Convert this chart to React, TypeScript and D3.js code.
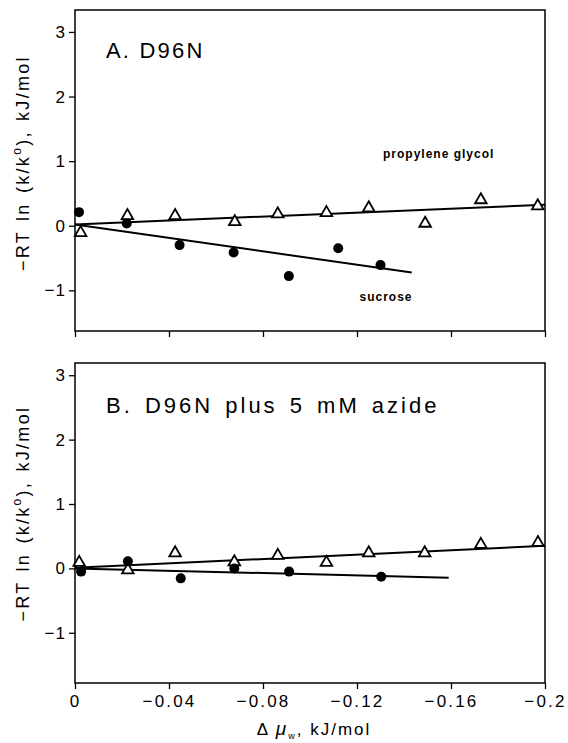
import React, { useRef, useEffect } from 'react';
import * as d3 from 'd3';

// x axis (shared)
const xTicks = [0, -0.04, -0.08, -0.12, -0.16, -0.2];
const yTicks = [3, 2, 1, 0, -1];

// Panel A: D96N
const aGlycolX = [-0.0024, -0.0223, -0.0426, -0.068, -0.0863, -0.107, -0.125, -0.149, -0.1727, -0.1969];
const aGlycolY = [-0.11, 0.155, 0.155, 0.06, 0.18, 0.2, 0.275, 0.036, 0.4, 0.306];
const aSucroseX = [-0.0017, -0.022, -0.0445, -0.0675, -0.091, -0.112, -0.13];
const aSucroseY = [0.21, 0.036, -0.3, -0.415, -0.78, -0.35, -0.61];
const aGlycolFitX = [0, -0.2];
const aGlycolFitY = [0.02, 0.326];
const aSucroseFitX = [0, -0.1433];
const aSucroseFitY = [0.02, -0.726];

// Panel B: D96N plus 5 mM azide
const bGlycolX = [-0.0018, -0.0225, -0.0426, -0.0678, -0.0863, -0.107, -0.125, -0.1488, -0.1727, -0.197];
const bGlycolY = [0.09, -0.026, 0.24, 0.1, 0.2, 0.09, 0.24, 0.24, 0.37, 0.4];
const bSucroseX = [-0.0026, -0.0225, -0.045, -0.0678, -0.0911, -0.1303];
const bSucroseY = [-0.05, 0.11, -0.155, 0.0, -0.05, -0.13];
const bGlycolFitX = [0, -0.2];
const bGlycolFitY = [0.01, 0.35];
const bSucroseFitX = [0, -0.159];
const bSucroseFitY = [0.0, -0.145];

const FONT = '"Liberation Sans", Arial, Helvetica, sans-serif';

const fmt = (d: number) => (d < 0 ? '\u2212' + String(Math.abs(d)) : String(d));

const App = () => {
  const svgRef = useRef<SVGSVGElement>(null);

  useEffect(() => {
    const svg = d3.select(svgRef.current);
    svg.selectAll('*').remove();

    const left = 75, right = 545;
    const x = d3.scaleLinear().domain([0, -0.2]).range([left, right]);

    const panels = [
      {
        top: 10, bottom: 331, domain: [-1.63, 3.34], title: 'A. D96N', titleY: 58, titleSpacing: 2.2,
        labelAt: 0.97,
        gx: aGlycolX, gy: aGlycolY, sx: aSucroseX, sy: aSucroseY,
        gfx: aGlycolFitX, gfy: aGlycolFitY, sfx: aSucroseFitX, sfy: aSucroseFitY,
        xLabels: false,
      },
      {
        top: 363, bottom: 683, domain: [-1.78, 3.19], title: 'B. D96N plus 5 mM azide', titleY: 413, titleSpacing: 3,
        labelAt: 0.85,
        gx: bGlycolX, gy: bGlycolY, sx: bSucroseX, sy: bSucroseY,
        gfx: bGlycolFitX, gfy: bGlycolFitY, sfx: bSucroseFitX, sfy: bSucroseFitY,
        xLabels: true,
      },
    ];

    panels.forEach(p => {
      const y = d3.scaleLinear().domain(p.domain).range([p.bottom, p.top]);
      const g = svg.append('g');

      // frame
      g.append('rect')
        .attr('x', left).attr('y', p.top)
        .attr('width', right - left).attr('height', p.bottom - p.top)
        .attr('fill', 'none').attr('stroke', '#000').attr('stroke-width', 1.5);

      // y axis
      const ya = g.append('g')
        .attr('transform', `translate(${left},0)`)
        .call(d3.axisLeft(y).tickValues(yTicks).tickSize(6).tickPadding(3).tickFormat(d => fmt(+d)));
      ya.select('.domain').remove();
      ya.selectAll('line').attr('stroke-width', 1.3);
      ya.selectAll('text').attr('font-family', FONT).attr('font-size', 17)
        .attr('letter-spacing', 1).attr('fill', '#000');

      // x axis
      const xa = g.append('g')
        .attr('transform', `translate(0,${p.bottom})`)
        .call(d3.axisBottom(x).tickValues(xTicks).tickSize(6).tickPadding(6)
          .tickFormat(d => (p.xLabels ? fmt(+d) : '')));
      xa.select('.domain').remove();
      xa.selectAll('line').attr('stroke-width', 1.3);
      xa.selectAll('text').attr('font-family', FONT).attr('font-size', 17)
        .attr('letter-spacing', 2.2).attr('fill', '#000');

      // fit lines
      const line = d3.line<[number, number]>().x(d => x(d[0])).y(d => y(d[1]));
      [[p.gfx, p.gfy], [p.sfx, p.sfy]].forEach(([fx, fy]) => {
        g.append('path')
          .attr('d', line(fx.map((v, i) => [v, fy[i]] as [number, number])))
          .attr('fill', 'none').attr('stroke', '#000').attr('stroke-width', 2);
      });

      // propylene glycol: open triangles
      const tri = d3.symbol().type(d3.symbolTriangle).size(58);
      g.selectAll('.tri')
        .data(p.gx.map((v, i) => [v, p.gy[i]]))
        .enter().append('path')
        .attr('d', tri())
        .attr('transform', d => `translate(${x(d[0])},${y(d[1])})`)
        .attr('fill', '#fff').attr('stroke', '#000').attr('stroke-width', 1.8);

      // sucrose: filled circles
      g.selectAll('.dot')
        .data(p.sx.map((v, i) => [v, p.sy[i]]))
        .enter().append('circle')
        .attr('cx', d => x(d[0])).attr('cy', d => y(d[1])).attr('r', 5)
        .attr('fill', '#000');

      // panel title
      g.append('text')
        .attr('x', 106).attr('y', p.titleY)
        .attr('font-family', FONT).attr('font-size', 22).attr('letter-spacing', p.titleSpacing)
        .attr('word-spacing', p.xLabels ? 3 : 0)
        .text(p.title);

      // y label
      const yl = g.append('text')
        .attr('transform', `translate(29,${y(p.labelAt)}) rotate(-90)`)
        .attr('text-anchor', 'middle')
        .attr('font-family', FONT).attr('font-size', 18).attr('letter-spacing', 2.3)
        .attr('word-spacing', 2);
      yl.append('tspan').text('\u2212RT ln (k/k');
      yl.append('tspan').attr('dy', -8).attr('font-size', 12).text('o');
      yl.append('tspan').attr('dy', 8).text('), kJ/mol');

      if (!p.xLabels) {
        g.append('text')
          .attr('x', 383).attr('y', 158)
          .attr('font-family', FONT).attr('font-size', 12).attr('font-weight', 'bold')
          .attr('letter-spacing', 1)
          .text('propylene glycol');
        g.append('text')
          .attr('x', 386).attr('y', 301).attr('text-anchor', 'middle')
          .attr('font-family', FONT).attr('font-size', 12).attr('font-weight', 'bold')
          .attr('letter-spacing', 1)
          .text('sucrose');
      } else {
        const xl = g.append('text')
          .attr('x', (left + right) / 2 + 4).attr('y', 735).attr('text-anchor', 'middle')
          .attr('font-family', FONT).attr('font-size', 17).attr('letter-spacing', 2);
        xl.append('tspan').text('\u0394 ');
        xl.append('tspan').attr('font-style', 'italic').attr('font-size', 19).text('\u03bc');
        xl.append('tspan').attr('dy', 4).attr('font-size', 9).text('w');
        xl.append('tspan').attr('dy', -4).text(', kJ/mol');
      }
    });
  }, []);

  return (
    <svg ref={svgRef} width="568" height="743"
      style={{ position: 'absolute', left: 0, top: 0, background: '#fff' }} />
  );
};

export default App;
